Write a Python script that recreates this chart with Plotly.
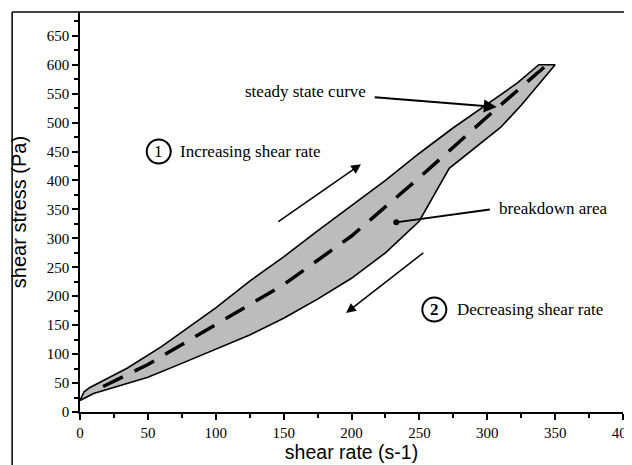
import plotly.graph_objects as go

# Upper (increasing shear rate) branch
up_x = [0, 3, 7, 13, 35, 60, 85, 100, 125, 150, 175, 200, 225, 250, 275, 300, 322, 338]
up_y = [20, 35, 42, 49, 76, 113, 154, 180, 226, 268, 313, 357, 400, 447, 491, 532, 568, 600]
# Lower (decreasing shear rate) branch
low_x = [0, 10, 25, 50, 75, 100, 125, 150, 175, 200, 225, 250, 262, 272, 290, 310, 325, 340, 350]
low_y = [20, 32, 42, 60, 84, 108, 133, 162, 195, 231, 275, 330, 380, 421, 455, 492, 530, 572, 600]
# Steady state curve
ss_x = [17, 50, 100, 150, 200, 250, 300, 344]
ss_y = [44, 82, 151, 220, 304, 405, 510, 600]

x_ticks = [0, 50, 100, 150, 200, 250, 300, 350, 400]
y_ticks = [0, 50, 100, 150, 200, 250, 300, 350, 400, 450, 500, 550, 600, 650]

poly_x = up_x + low_x[::-1]
poly_y = up_y + low_y[::-1]

fig = go.Figure()
fig.add_trace(go.Scatter(x=poly_x, y=poly_y, mode="lines", fill="toself",
                         fillcolor="#bcbcbc", line=dict(color="black", width=1.6),
                         hoverinfo="skip", showlegend=False))
fig.add_trace(go.Scatter(x=ss_x, y=ss_y, mode="lines",
                         line=dict(color="black", width=3.5, dash="22px,13px"),
                         showlegend=False))
# breakdown area dot
fig.add_trace(go.Scatter(x=[233], y=[328], mode="markers",
                         marker=dict(color="black", size=6), showlegend=False))

serif = "Liberation Serif, Times New Roman, serif"
sans = "Liberation Sans, Arial, sans-serif"
afont = dict(family=serif, size=17, color="black")

ann = []
ann.append(dict(x=166, y=553, text="steady state curve", showarrow=False, font=afont))
ann.append(dict(x=307, y=527, ax=216, ay=544, axref="x", ayref="y", text="",
                showarrow=True, arrowhead=2, arrowsize=1.3, arrowwidth=2, arrowcolor="black"))
ann.append(dict(x=72, y=450, text="Increasing shear rate", showarrow=False, xanchor="left",
                font=afont))
ann.append(dict(x=58, y=450, text="1", showarrow=False, font=afont))
ann.append(dict(x=207, y=428, ax=145, ay=327, axref="x", ayref="y", text="",
                showarrow=True, arrowhead=2, arrowsize=1.3, arrowwidth=1.5, arrowcolor="black"))
ann.append(dict(x=307, y=352, text="breakdown area", showarrow=False, xanchor="left",
                font=afont))
ann.append(dict(x=234, y=328, ax=303, ay=350, axref="x", ayref="y", text="",
                showarrow=True, arrowhead=0, arrowwidth=2, arrowcolor="black"))
ann.append(dict(x=276, y=177, text="Decreasing shear rate", showarrow=False, xanchor="left",
                font=afont))
ann.append(dict(x=261, y=177, text="<b>2</b>", showarrow=False, font=afont))
ann.append(dict(x=196, y=171, ax=254, ay=277, axref="x", ayref="y", text="",
                showarrow=True, arrowhead=2, arrowsize=1.3, arrowwidth=1.5, arrowcolor="black"))

shapes = [
    dict(type="circle", xref="x", yref="y", xsizemode="pixel", ysizemode="pixel",
         xanchor=58, yanchor=450, x0=-12, x1=12, y0=-12, y1=12,
         line=dict(color="black", width=2)),
    dict(type="circle", xref="x", yref="y", xsizemode="pixel", ysizemode="pixel",
         xanchor=261, yanchor=177, x0=-12, x1=12, y0=-12, y1=12,
         line=dict(color="black", width=2)),
    # outer frame (top and left)
    dict(type="line", xref="paper", yref="paper", x0=-0.125, x1=1.02, y0=1.0, y1=1.0,
         line=dict(color="black", width=1.5)),
    dict(type="line", xref="paper", yref="paper", x0=-0.125, x1=-0.125, y0=1.0, y1=-0.14,
         line=dict(color="black", width=1.5)),
]

fig.update_layout(
    width=624, height=457,
    margin=dict(l=72, r=9, t=4, b=53),
    paper_bgcolor="white", plot_bgcolor="white",
    annotations=ann, shapes=shapes,
    xaxis=dict(range=[0, 400], tickvals=x_ticks, ticktext=[str(v) for v in x_ticks],
               automargin=False, ticklabeloverflow="allow",
               ticks="outside", ticklen=6, tickwidth=1.5, tickcolor="black",
               showline=True, linecolor="black", linewidth=1.5, showgrid=False, zeroline=False,
               minor=dict(tickvals=[25, 75, 125, 175, 225, 275, 325, 375], ticks="outside",
                          ticklen=4, tickwidth=1.5, tickcolor="black"),
               tickfont=dict(family=serif, size=15, color="black"),
               title=dict(text="shear rate (s-1)", font=dict(family=sans, size=19.5, color="black"),
                          standoff=0)),
    yaxis=dict(range=[0, 691], tickvals=y_ticks, ticktext=[str(v) for v in y_ticks],
               automargin=False,
               ticks="outside", ticklen=6, tickwidth=1.5, tickcolor="black",
               showline=True, linecolor="black", linewidth=1.5, showgrid=False, zeroline=False,
               minor=dict(tickvals=[25 + 50 * i for i in range(14)], ticks="outside",
                          ticklen=4, tickwidth=1.5, tickcolor="black"),
               tickfont=dict(family=serif, size=15, color="black"),
               title=dict(text="shear stress (Pa)", font=dict(family=sans, size=20, color="black"),
                          standoff=16)),
)

fig.write_html("out.html")
